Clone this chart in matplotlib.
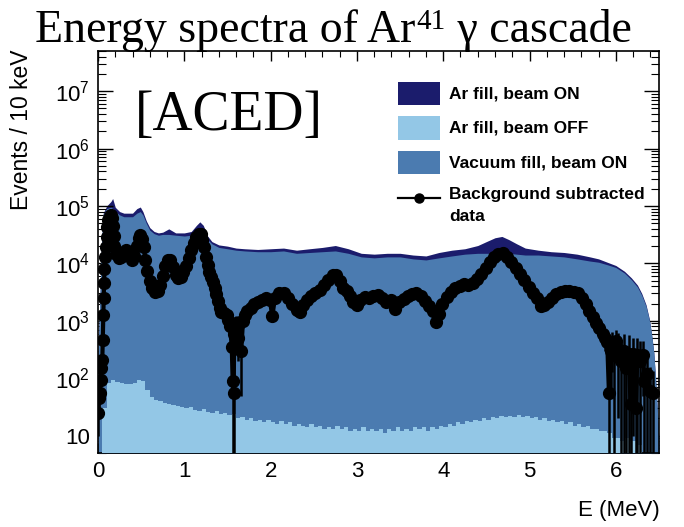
import numpy as np
import matplotlib
matplotlib.use("Agg")
import matplotlib.pyplot as plt
from matplotlib import font_manager as fm
from matplotlib.patches import Rectangle
from matplotlib.lines import Line2D
from matplotlib.ticker import LogLocator, MultipleLocator, FuncFormatter, NullFormatter

# ---------------------------------------------------------------- fonts
_installed = {f.name for f in fm.fontManager.ttflist}
SANS_MAIN = "Liberation Sans Narrow" if "Liberation Sans Narrow" in _installed else "Liberation Sans"
SANS = [SANS_MAIN, "Liberation Sans", "DejaVu Sans"]
SERIF = ["Liberation Serif", "DejaVu Serif"]
plt.rcParams["font.family"] = SANS
plt.rcParams["mathtext.fontset"] = "custom"
plt.rcParams["mathtext.rm"] = SANS_MAIN
plt.rcParams["mathtext.it"] = SANS_MAIN + ":italic"
plt.rcParams["mathtext.bf"] = SANS_MAIN + ":bold"

# ---------------------------------------------------------------- data
# Simulated backgrounds (smooth envelopes), energy in MeV, counts / 10 keV
bkg_e = [0.00, 0.02, 0.04, 0.06, 0.10, 0.15, 0.17, 0.20, 0.25, 0.30, 0.35, 0.40,
         0.45, 0.49, 0.52, 0.56, 0.60, 0.65, 0.70, 0.75, 0.82, 0.90, 1.00, 1.08,
         1.14, 1.18, 1.22, 1.27, 1.32, 1.40, 1.50, 1.60, 1.70, 1.85, 2.00, 2.15,
         2.30, 2.45, 2.60, 2.75, 2.90, 3.05, 3.20, 3.35, 3.50, 3.65, 3.80, 3.95,
         4.10, 4.25, 4.40, 4.50, 4.60, 4.68, 4.76, 4.85, 4.95, 5.10, 5.25, 5.40,
         5.55, 5.70, 5.80, 5.90, 6.00, 6.10, 6.18, 6.25, 6.30, 6.35, 6.39, 6.42,
         6.44, 6.46, 6.48, 6.50]
vac_on = [300, 2000, 20000, 70000, 90000, 95000, 90000, 80000, 70000, 65000, 65000, 65000,
          75000, 80000, 70000, 50000, 38000, 33000, 31000, 32000, 32000, 31000, 30000, 31000,
          34000, 36000, 33000, 26000, 22000, 19000, 18000, 17000, 16500, 16000, 16000, 16500,
          15000, 15500, 16000, 16500, 15000, 13000, 12500, 13000, 13000, 12000, 11500, 12500,
          13500, 14500, 15000, 15000, 15000, 15000, 15000, 14500, 14000, 14000, 13500, 13000,
          12000, 11000, 10500, 9500, 8500, 6800, 5200, 3900, 2800, 1800, 1000, 500,
          280, 100, 30, 8]
ar_on = [300, 2000, 20000, 75000, 100000, 120000, 135000, 95000, 80000, 75000, 75000, 75000,
         90000, 96000, 80000, 55000, 42000, 36000, 34000, 35000, 40000, 34000, 34000, 36000,
         46000, 53000, 46000, 30000, 24000, 21000, 20000, 18500, 18000, 17500, 18000, 18500,
         17000, 18000, 19000, 20500, 18000, 15000, 14500, 15000, 15000, 14000, 13500, 15500,
         17000, 18000, 20500, 24000, 28000, 29500, 26000, 22000, 18500, 17000, 16000, 15500,
         14500, 13000, 12000, 10500, 9200, 7300, 5600, 4200, 3000, 1900, 1050, 500,
         280, 100, 30, 8]

# Ar fill, beam OFF: 50 keV bins from 0 to 6.5 MeV
off_edges = np.round(np.arange(0.0, 6.5001, 0.05), 3)
ar_off = [1, 30, 82, 92, 86, 84, 80, 79, 84, 95,
          88, 62, 48, 42, 40, 37, 36, 34, 33, 31,
          30, 32, 28, 27, 29, 26, 25, 27, 24, 25,
          23, 24, 20, 21, 19, 20, 18, 19, 17, 19,
          17, 16, 18, 16, 17, 15, 16, 15, 14, 16,
          14, 15, 13, 14, 13, 15, 13, 14, 12, 13,
          12, 14, 12, 13, 12, 13, 11, 13, 12, 14,
          12, 13, 12, 14, 13, 14, 12, 14, 13, 15,
          14, 16, 15, 17, 16, 18, 17, 19, 18, 20,
          19, 21, 20, 22, 21, 22, 21, 23, 21, 22,
          20, 21, 19, 20, 18, 19, 17, 18, 16, 17,
          15, 16, 14, 15, 13, 13, 12, 12, 11, 9,
          9, 8, 9, 8, 8, 7, 1, 1, 1, 1]

# Background subtracted data points with statistical errors
data_e = [0.00, 0.01, 0.02, 0.03, 0.04, 0.05, 0.055, 0.06, 0.065, 0.07, 0.075, 0.08,
          0.09, 0.10, 0.11, 0.12, 0.135, 0.15, 0.16, 0.17, 0.18, 0.19, 0.21, 0.24,
          0.27, 0.30, 0.33, 0.36, 0.39, 0.42, 0.45, 0.47, 0.49, 0.51, 0.53, 0.55,
          0.57, 0.60, 0.63, 0.66, 0.69, 0.72, 0.75, 0.78, 0.81, 0.84, 0.87, 0.90,
          0.93, 0.96, 0.99, 1.02, 1.05, 1.08, 1.11, 1.14, 1.17, 1.19, 1.21, 1.23,
          1.25, 1.27, 1.29, 1.31, 1.33, 1.35, 1.37, 1.39, 1.41, 1.43, 1.46, 1.49,
          1.51, 1.53, 1.55, 1.56, 1.57, 1.58, 1.60, 1.62, 1.64, 1.66, 1.68, 1.70,
          1.73, 1.77, 1.81, 1.85, 1.90, 1.95, 1.99, 2.02, 2.05, 2.10, 2.15, 2.20,
          2.25, 2.30, 2.34, 2.38, 2.42, 2.47, 2.52, 2.57, 2.62, 2.67, 2.72, 2.76,
          2.80, 2.84, 2.88, 2.92, 2.96, 3.00, 3.04, 3.09, 3.14, 3.19, 3.24, 3.29,
          3.34, 3.39, 3.44, 3.49, 3.54, 3.59, 3.64, 3.69, 3.74, 3.79, 3.84, 3.88,
          3.92, 3.95, 3.99, 4.04, 4.09, 4.14, 4.19, 4.24, 4.29, 4.34, 4.39, 4.44,
          4.49, 4.54, 4.59, 4.64, 4.69, 4.74, 4.79, 4.84, 4.89, 4.94, 4.99, 5.04,
          5.09, 5.13, 5.17, 5.21, 5.26, 5.31, 5.36, 5.41, 5.46, 5.51, 5.56, 5.61,
          5.65, 5.69, 5.73, 5.77, 5.81, 5.85, 5.88, 5.90, 5.92, 5.94, 5.96, 5.98,
          6.00, 6.03, 6.06, 6.09, 6.12, 6.15, 6.17, 6.20, 6.23, 6.25, 6.28, 6.31,
          6.33, 6.36, 6.40, 6.43]
data_n = [25, 45, 55, 95, 150, 210, 470, 1250, 2500, 4500, 8000, 13000,
          19000, 29000, 43000, 58000, 68000, 70000, 62000, 45000, 30000, 20000, 14500, 12500,
          13000, 15500, 17000, 14000, 11500, 13500, 20000, 28000, 31000, 27000, 19000, 11500,
          7500, 5000, 3800, 3200, 3300, 4200, 6000, 9000, 11500, 11500, 8500, 6300,
          5500, 5800, 7200, 9200, 12500, 17000, 23000, 29000, 33000, 32000, 26000, 19000,
          13000, 9500, 7200, 5800, 4800, 3800, 2900, 2200, 1700, 1450, 1350, 1250,
          1050, 800, 350, 90, 55, 600, 900, 500, 950, 300, 1000, 1250,
          1500, 1700, 2000, 2100, 2300, 2500, 2300, 1200, 2500, 3000, 3000, 2500,
          2000, 1550, 1450, 1900, 2300, 2700, 3100, 3500, 4200, 5200, 6200, 6300,
          5000, 3800, 3300, 2700, 2100, 1900, 2300, 2600, 2500, 2700, 2800, 2500,
          2100, 2300, 1600, 2100, 2400, 2700, 2900, 3000, 2700, 2200, 1800, 1500,
          950, 1300, 2000, 2600, 3200, 3700, 4100, 4300, 4200, 4500, 5300, 6500,
          8300, 10500, 13000, 14800, 15000, 13000, 10500, 8300, 6500, 5100, 3900, 3100,
          2500, 1800, 1900, 2100, 2500, 2900, 3200, 3300, 3300, 3200, 3000, 2500,
          2000, 1500, 1150, 900, 750, 600, 500, 420, 55, 300, 380, 250,
          450, 320, 200, 300, 150, 270, 35, 260, 30, 250, 200, 250,
          90, 120, 60, 55]
data_err = [15, 15, 15, 20, 25, 30, 40, 60, 80, 100, 150, 200,
            250, 300, 300, 300, 300, 300, 300, 300, 300, 250, 200, 200,
            200, 200, 200, 200, 200, 200, 200, 200, 200, 200, 200, 150,
            150, 100, 100, 100, 100, 100, 100, 150, 150, 150, 150, 100,
            100, 100, 100, 150, 150, 200, 200, 200, 200, 200, 200, 200,
            150, 150, 150, 100, 100, 100, 100, 100, 100, 100, 120, 150,
            200, 250, 250, 200, 150, 300, 300, 300, 300, 250, 250, 200,
            150, 150, 150, 150, 150, 150, 150, 150, 150, 150, 150, 150,
            150, 150, 150, 150, 150, 150, 150, 150, 150, 150, 150, 150,
            150, 150, 150, 150, 150, 150, 150, 150, 150, 150, 150, 150,
            150, 150, 150, 150, 150, 150, 150, 150, 150, 150, 150, 150,
            150, 150, 150, 150, 150, 150, 150, 150, 150, 150, 150, 150,
            150, 200, 200, 200, 200, 200, 200, 150, 150, 150, 150, 150,
            150, 150, 150, 150, 150, 150, 150, 150, 150, 150, 150, 150,
            200, 200, 200, 200, 200, 200, 200, 200, 150, 250, 250, 250,
            250, 300, 250, 300, 200, 300, 100, 250, 80, 250, 250, 200,
            120, 150, 100, 80]

y_ticks = [10, 1e2, 1e3, 1e4, 1e5, 1e6, 1e7]

# ---------------------------------------------------------------- style
NAVY = "#1b1c6c"
STEEL = "#4b7bb0"
LIGHT = "#93c7e6"

W_PX, H_PX = 684, 527
fig = plt.figure(figsize=(W_PX / 100, H_PX / 100), dpi=100)


def fx(px):
    return px / W_PX


def fy(py):
    return 1 - py / H_PX


ax = fig.add_axes([fx(98), fy(453), fx(659) - fx(98), fy(51) - fy(453)])
ax.set_yscale("log")

ax.fill_between(bkg_e, 1, ar_on, color=NAVY, lw=0, zorder=1)
ax.fill_between(bkg_e, 1, vac_on, color=STEEL, lw=0, zorder=2)
ax.stairs(ar_off, off_edges, fill=True, baseline=1, color=LIGHT, zorder=3)
ax.errorbar(data_e, data_n, yerr=data_err, fmt="o-", color="black", ms=8.5,
            lw=3.0, elinewidth=1.8, capsize=0, zorder=5)

ax.set_xlim(0, 6.5)
ax.set_ylim(5, 5e7)

ax.xaxis.set_major_locator(MultipleLocator(1))
ax.xaxis.set_minor_locator(MultipleLocator(0.2))
ax.yaxis.set_major_locator(LogLocator(base=10, numticks=20))
ax.yaxis.set_minor_locator(LogLocator(base=10, subs=np.arange(2, 10), numticks=20))
ax.yaxis.set_minor_formatter(NullFormatter())


def ylab(v, pos):
    n = int(round(np.log10(v)))
    return "10" if n == 1 else r"$10^{%d}$" % n


ax.yaxis.set_major_formatter(FuncFormatter(ylab))
ax.set_yticks(y_ticks)

ax.tick_params(axis="both", which="both", direction="in", top=True, right=True,
               labelsize=16, colors="black")
ax.tick_params(axis="y", which="major", length=11, width=1.0, pad=6)
ax.tick_params(axis="y", which="minor", length=5.5, width=0.8)
ax.tick_params(axis="x", which="major", length=7.5, width=1.0, pad=6)
ax.tick_params(axis="x", which="minor", length=4, width=0.8)
for s in ax.spines.values():
    s.set_linewidth(1.2)

# axis titles
fig.text(fx(22), fy(50), "Events / 10 keV", rotation=90, ha="center", va="top",
         fontsize=16.5)
fig.text(fx(660), fy(516), "E (MeV)", ha="right", va="baseline", fontsize=16)

# experiment tag
fig.text(fx(135), fy(116), "[ACED]", family=SERIF, fontsize=40, ha="left",
         va="center")

# title with superscript mass number
fig.canvas.draw()
rend = fig.canvas.get_renderer()
base_y = fy(42)
t1 = fig.text(fx(35), base_y, "Energy spectra of Ar", family=SERIF, fontsize=33,
              va="baseline", ha="left")
bb1 = t1.get_window_extent(rend)
t2 = fig.text(bb1.x1 / W_PX + fx(1), base_y + 13 / H_PX, "41", family=SERIF,
              fontsize=21, va="baseline", ha="left")
bb2 = t2.get_window_extent(rend)
fig.text(bb2.x1 / W_PX, base_y, " \u03b3 cascade", family=SERIF, fontsize=33,
         va="baseline", ha="left")

# legend
legend_font = dict(fontsize=12.5, fontweight="bold", va="center", ha="left",
                   family=SANS)
entries = [(NAVY, 93.5, "Ar fill, beam ON"),
           (LIGHT, 128, "Ar fill, beam OFF"),
           (STEEL, 162.5, "Vacuum fill, beam ON")]
for col, yc, lab in entries:
    fig.add_artist(Rectangle((fx(398), fy(yc + 11.5)), fx(42), 23 / H_PX,
                             transform=fig.transFigure, color=col, lw=0))
    fig.text(fx(449), fy(yc), lab, **legend_font)
fig.add_artist(Line2D([fx(398), fx(440)], [fy(197.5), fy(197.5)],
                      transform=fig.transFigure, color="black", lw=1.6))
fig.add_artist(Line2D([fx(419)], [fy(197.5)], transform=fig.transFigure,
                      color="black", marker="o", ms=6.5, ls="none"))
fig.text(fx(449), fy(195), "Background subtracted", **legend_font)
fig.text(fx(449), fy(216.5), "data", **legend_font)

fig.savefig("out.png", dpi=100)
